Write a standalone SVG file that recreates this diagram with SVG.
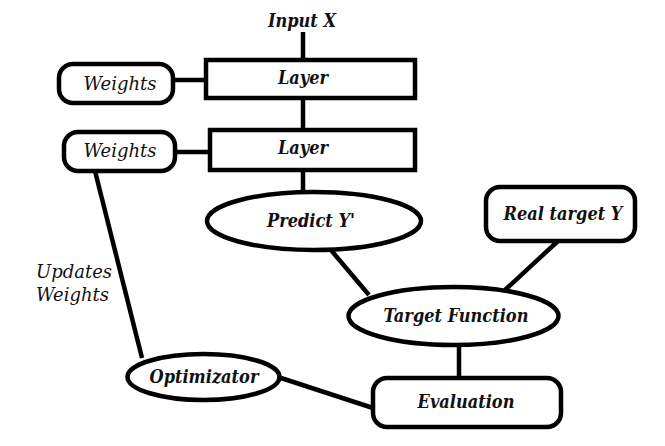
<svg xmlns="http://www.w3.org/2000/svg" width="665" height="446" viewBox="0 0 665 446">
<style>
.shape{fill:#fff;stroke:#000;stroke-width:4.5}
.conn line{stroke:#000;stroke-width:4.5}
.b{font-family:"DejaVu Serif Condensed","DejaVu Serif",serif;font-style:italic;font-weight:bold;font-size:18px;text-anchor:middle;fill:#111}
.r{font-family:"DejaVu Serif",serif;font-style:italic;font-size:18px;fill:#111}
</style>
<rect width="665" height="446" fill="#fff"/>
<g id="connectors" class="conn">
<line x1="303" y1="32" x2="303" y2="60"/>
<line x1="173" y1="80" x2="206" y2="80"/>
<line x1="303" y1="98" x2="303" y2="130"/>
<line x1="175" y1="152" x2="210" y2="152"/>
<line x1="303" y1="170" x2="303" y2="193"/>
<line x1="330" y1="249" x2="369" y2="295"/>
<line x1="558" y1="241" x2="505" y2="290"/>
<line x1="459" y1="345" x2="459" y2="378"/>
<line x1="281" y1="378" x2="373" y2="408"/>
<line x1="95" y1="171" x2="142" y2="358"/>
</g>
<g id="input-x"><text class="b" x="302" y="27">Input X</text></g>
<g id="layer1"><rect class="shape" x="206" y="60" width="209" height="38"/><text class="b" x="303" y="84">Layer</text></g>
<g id="weights1"><rect class="shape" x="59" y="64" width="114" height="39" rx="14"/><text class="r" x="120" y="90" text-anchor="middle">Weights</text></g>
<g id="layer2"><rect class="shape" x="210" y="130" width="205" height="40"/><text class="b" x="303" y="154">Layer</text></g>
<g id="weights2"><rect class="shape" x="64" y="132" width="111" height="39" rx="14"/><text class="r" x="120" y="157" text-anchor="middle">Weights</text></g>
<g id="predict"><ellipse class="shape" cx="314" cy="221" rx="107" ry="29"/><text class="b" x="311" y="227">Predict Y'</text></g>
<g id="real-target"><rect class="shape" x="486" y="187" width="149" height="54" rx="14"/><text class="b" x="563" y="220">Real target Y</text></g>
<g id="target-function"><ellipse class="shape" cx="453.5" cy="316" rx="105" ry="29"/><text class="b" x="456" y="322">Target Function</text></g>
<g id="evaluation"><rect class="shape" x="373" y="378" width="188" height="49" rx="14"/><text class="b" x="466" y="408">Evaluation</text></g>
<g id="optimizator"><ellipse class="shape" cx="203.5" cy="377" rx="76" ry="23"/><text class="b" x="204" y="383">Optimizator</text></g>
<g id="updates-label"><text class="r" x="36" y="278">Updates</text><text class="r" x="36" y="301">Weights</text></g>
</svg>
